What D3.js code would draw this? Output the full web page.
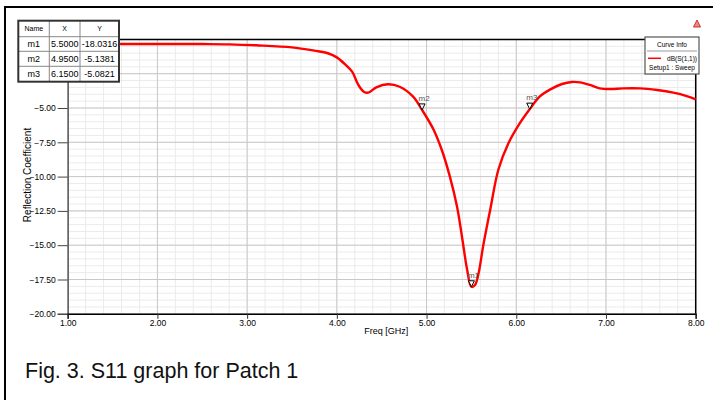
<!DOCTYPE html>
<html>
<head>
<meta charset="utf-8">
<script src="https://cdn.jsdelivr.net/npm/d3@7/dist/d3.min.js"></script>
<style>
  body { margin: 0; background: #fff; }
  svg { display: block; font-family: "Liberation Sans", Arial, sans-serif; }
</style>
</head>
<body>
<svg id="chart" width="713" height="400"></svg>
<script>
// S11 sweep (GHz, dB)
var freq = [1.0, 1.5, 2.0, 2.5, 2.8, 3.1, 3.5, 3.75, 3.9, 4.0, 4.1, 4.17, 4.24, 4.3, 4.35,
            4.44, 4.57, 4.7, 4.85, 4.95, 5.08, 5.17, 5.26, 5.34, 5.4, 5.45, 5.5, 5.54, 5.58,
            5.63, 5.71, 5.8, 5.91, 6.04, 6.15, 6.26, 6.38, 6.51, 6.62, 6.71, 6.82, 6.93,
            7.05, 7.19, 7.38, 7.57, 7.75, 7.9, 8.0];
var s11 = [-0.33, -0.33, -0.33, -0.34, -0.36, -0.43, -0.58, -0.82, -1.01, -1.31, -1.87, -2.35, -3.32, -3.81, -3.88,
           -3.49, -3.27, -3.45, -4.17, -5.14, -6.6, -8.06, -10.0, -12.2, -14.6, -16.7, -18.03, -17.9, -17.05,
           -15.1, -12.4, -9.5, -7.6, -6.1, -5.08, -4.17, -3.64, -3.25, -3.1, -3.13, -3.32, -3.57,
           -3.62, -3.57, -3.57, -3.69, -3.88, -4.13, -4.37];

var markerNames = ['m1', 'm2', 'm3'];
var markerX = [5.5, 4.95, 6.15];
var markerY = [-18.0316, -5.1381, -5.0821];

var xMajor = [1, 2, 3, 4, 5, 6, 7, 8];
var yMajor = [-20, -17.5, -15, -12.5, -10, -7.5, -5, -2.5, 0];
// labels at 0 and -2.5 sit under the marker table, so only these are printed
var yLabelled = [-20, -17.5, -15, -12.5, -10, -7.5, -5];

var svg = d3.select('#chart');

var x = d3.scaleLinear().domain([1, 8]).range([67.7, 695.7]);
var y = d3.scaleLinear().domain([-20, 0]).range([313.8, 39.4]);

var xMinor = d3.range(1, 8.001, 0.2);
var yMinor = d3.range(-20, 0.001, 0.5);

// outer frame (top + left only)
svg.append('line').attr('x1', 5).attr('x2', 713).attr('y1', 7).attr('y2', 7)
    .attr('stroke', '#000').attr('stroke-width', 2);
svg.append('line').attr('x1', 5).attr('x2', 5).attr('y1', 6).attr('y2', 400)
    .attr('stroke', '#000').attr('stroke-width', 2);

// grid
var grid = svg.append('g');
grid.selectAll('.vmin').data(xMinor).enter().append('line')
    .attr('x1', function(d) { return x(d); }).attr('x2', function(d) { return x(d); })
    .attr('y1', y(0)).attr('y2', y(-20))
    .attr('stroke', '#ebebeb').attr('stroke-width', 1);
grid.selectAll('.hmin').data(yMinor).enter().append('line')
    .attr('x1', x(1)).attr('x2', x(8))
    .attr('y1', function(d) { return y(d); }).attr('y2', function(d) { return y(d); })
    .attr('stroke', '#ebebeb').attr('stroke-width', 1);
grid.selectAll('.vmaj').data(xMajor).enter().append('line')
    .attr('x1', function(d) { return x(d); }).attr('x2', function(d) { return x(d); })
    .attr('y1', y(0)).attr('y2', y(-20))
    .attr('stroke', '#c8c8c8').attr('stroke-width', 1);
grid.selectAll('.hmaj').data(yMajor).enter().append('line')
    .attr('x1', x(1)).attr('x2', x(8))
    .attr('y1', function(d) { return y(d); }).attr('y2', function(d) { return y(d); })
    .attr('stroke', '#c8c8c8').attr('stroke-width', 1);

// plot border top/right
svg.append('line').attr('x1', x(1)).attr('x2', x(8)).attr('y1', y(0)).attr('y2', y(0))
    .attr('stroke', '#000').attr('stroke-width', 1.5);
svg.append('line').attr('x1', x(8)).attr('x2', x(8)).attr('y1', y(0)).attr('y2', y(-20))
    .attr('stroke', '#000').attr('stroke-width', 1.5);

// axes
var yAxisMinor = d3.axisLeft(y).tickValues(yMinor).tickSize(5).tickFormat('');
var yAxisTicks = d3.axisLeft(y).tickValues(yMajor).tickSize(10).tickFormat('');
var yAxis = d3.axisLeft(y).tickValues(yLabelled).tickSize(10).tickPadding(2)
    .tickFormat(d3.format('.2f'));
var xAxisMinor = d3.axisBottom(x).tickValues(xMinor).tickSize(3).tickFormat('');
var xAxis = d3.axisBottom(x).tickValues(xMajor).tickSize(5).tickPadding(1)
    .tickFormat(d3.format('.2f'));

var gy = svg.append('g').attr('transform', 'translate(' + x(1) + ',0)');
gy.call(yAxisMinor);
gy.call(yAxisTicks);
gy.call(yAxis);
gy.selectAll('path').attr('stroke', '#666').attr('stroke-width', 1.6);
gy.selectAll('line').attr('stroke', '#444');
gy.selectAll('text').style('font-size', '8.5px').attr('fill', '#000');

var gx = svg.append('g').attr('transform', 'translate(0,' + y(-20) + ')');
gx.call(xAxisMinor);
gx.call(xAxis);
gx.selectAll('path').attr('stroke', '#000').attr('stroke-width', 1.5);
gx.selectAll('line').attr('stroke', '#333');
gx.selectAll('text').style('font-size', '8.5px').attr('fill', '#000');

// axis titles
svg.append('text').attr('x', x(4.55)).attr('y', 334)
    .attr('text-anchor', 'middle').style('font-size', '9px').text('Freq [GHz]');
svg.append('text')
    .attr('transform', 'translate(30.5,' + 175 + ') rotate(-90)')
    .attr('text-anchor', 'middle').style('font-size', '10px').text('Reflection Coefficient');

// curve
var pts = freq.map(function(f, i) { return [f, s11[i]]; });
var line = d3.line()
    .x(function(d) { return x(d[0]); })
    .y(function(d) { return y(d[1]); })
    .curve(d3.curveCatmullRom.alpha(0.5));
svg.append('path').datum(pts).attr('d', line)
    .attr('fill', 'none').attr('stroke', '#ff0000').attr('stroke-width', 2.4);

// markers
markerNames.forEach(function(name, i) {
  var px = x(markerX[i]), py = y(markerY[i]);
  svg.append('path')
      .attr('d', 'M' + (px - 3) + ',' + (py - 6) + 'L' + (px + 3) + ',' + (py - 6) + 'L' + px + ',' + py + 'Z')
      .attr('fill', '#fff').attr('stroke', '#000').attr('stroke-width', 1);
  svg.append('text').attr('x', px - 3.5).attr('y', py - 9)
      .style('font-size', '8px').attr('fill', '#555').text(name);
});

// marker table
var colX = [18.3, 49.3, 80, 119];
var rowY = [20.7, 36.7, 51.3, 66.3, 81.7];
var tbl = svg.append('g');
tbl.append('rect').attr('x', colX[0]).attr('y', rowY[0])
    .attr('width', colX[3] - colX[0]).attr('height', rowY[4] - rowY[0])
    .attr('fill', '#fff');
[1, 2, 3].forEach(function(r) {
  tbl.append('line').attr('x1', colX[0]).attr('x2', colX[3]).attr('y1', rowY[r]).attr('y2', rowY[r])
      .attr('stroke', '#888');
});
[1, 2].forEach(function(c) {
  tbl.append('line').attr('x1', colX[c]).attr('x2', colX[c]).attr('y1', rowY[0]).attr('y2', rowY[4])
      .attr('stroke', '#888');
});
tbl.append('rect').attr('x', colX[0]).attr('y', rowY[0])
    .attr('width', colX[3] - colX[0]).attr('height', rowY[4] - rowY[0])
    .attr('fill', 'none').attr('stroke', '#333').attr('stroke-width', 2);
var header = ['Name', 'X', 'Y'];
header.forEach(function(h, c) {
  tbl.append('text').attr('x', (colX[c] + colX[c + 1]) / 2).attr('y', rowY[0] + 10.5)
      .attr('text-anchor', 'middle').style('font-size', '7px').text(h);
});
markerNames.forEach(function(name, i) {
  var cells = [name, markerX[i].toFixed(4), markerY[i].toFixed(4)];
  cells.forEach(function(t, c) {
    tbl.append('text').attr('x', (colX[c] + colX[c + 1]) / 2).attr('y', rowY[i + 1] + 10.5)
        .attr('text-anchor', 'middle').style('font-size', '9px').text(t);
  });
});

// curve info legend
var lg = svg.append('g');
lg.append('rect').attr('x', 645).attr('y', 37).attr('width', 54).attr('height', 37)
    .attr('fill', '#fff').attr('stroke', '#555').attr('stroke-width', 1.2);
lg.append('line').attr('x1', 647).attr('x2', 697).attr('y1', 51).attr('y2', 51)
    .attr('stroke', '#999');
lg.append('text').attr('x', 672).attr('y', 47).attr('text-anchor', 'middle')
    .style('font-size', '6.5px').text('Curve Info');
lg.append('line').attr('x1', 648).attr('x2', 661).attr('y1', 58.3).attr('y2', 58.3)
    .attr('stroke', '#ff0000').attr('stroke-width', 1.5);
lg.append('text').attr('x', 697).attr('y', 60.5).attr('text-anchor', 'end')
    .style('font-size', '6.5px').text('dB(S(1,1))');
lg.append('text').attr('x', 672).attr('y', 70).attr('text-anchor', 'middle')
    .style('font-size', '6.5px').text('Setup1 : Sweep');

// small red triangle icon
svg.append('path').attr('d', 'M697,20 L700.5,27 L693.5,27 Z')
    .attr('fill', '#e88').attr('stroke', '#c33').attr('stroke-width', 1);

// caption
svg.append('text').attr('x', 25).attr('y', 378)
    .style('font-size', '21.5px').attr('fill', '#111').text('Fig. 3. S11 graph for Patch 1');
</script>
</body>
</html>
